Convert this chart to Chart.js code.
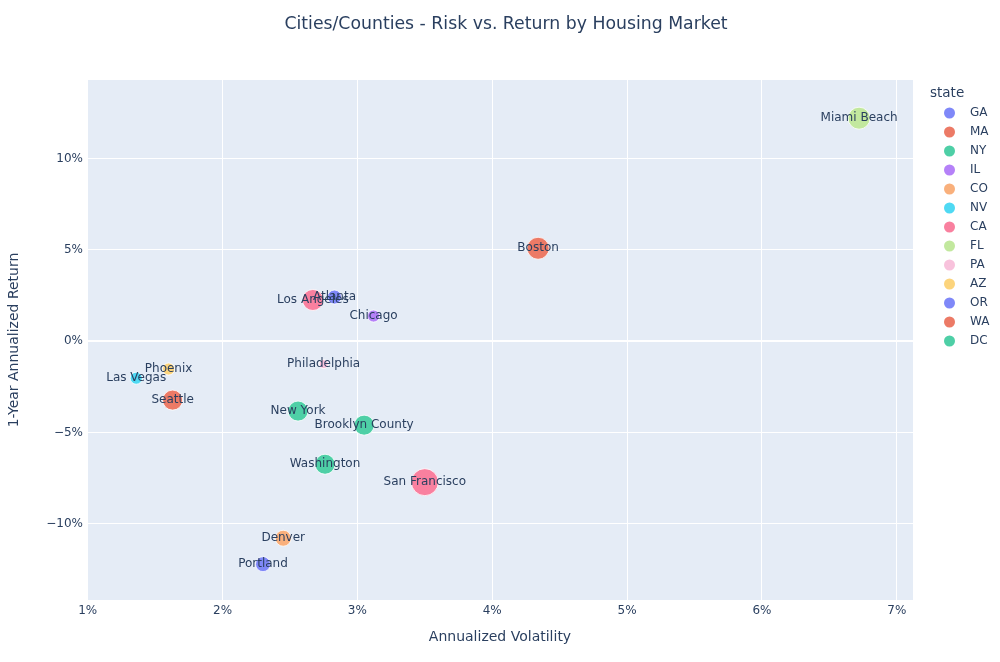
<!DOCTYPE html>
<html>
<head>
<meta charset="utf-8">
<title>Risk vs. Return by Housing Market</title>
<script src="https://cdn.jsdelivr.net/npm/chart.js@4.4.1/dist/chart.umd.min.js"></script>
<style>
  html, body { margin: 0; padding: 0; background: #fff; }
  #wrap { width: 1000px; height: 662px; }
</style>
</head>
<body>
<div id="wrap"><canvas id="chart"></canvas></div>
<script>
// data
const cities = ["Atlanta", "Boston", "New York", "Chicago", "Denver", "Las Vegas", "Los Angeles",
  "Miami Beach", "Philadelphia", "Phoenix", "Portland", "San Francisco", "Seattle",
  "Brooklyn County", "Washington"];
const cityStates = ["GA", "MA", "NY", "IL", "CO", "NV", "CA", "FL", "PA", "AZ", "OR", "CA", "WA", "NY", "DC"];
const volatility = [2.83, 4.34, 2.56, 3.12, 2.45, 1.36, 2.67, 6.72, 2.75, 1.60, 2.30, 3.50, 1.63, 3.05, 2.76];
const annualReturn = [2.41, 5.08, -3.83, 1.37, -10.79, -2.03, 2.25, 12.2, -1.26, -1.53, -12.21, -7.72, -3.23, -4.60, -6.74];
const marketSize = [380, 930, 770, 280, 490, 280, 850, 930, 150, 280, 430, 1400, 770, 770, 770];

const stateOrder = ["GA", "MA", "NY", "IL", "CO", "NV", "CA", "FL", "PA", "AZ", "OR", "WA", "DC"];
const stateColors = ["#7f88f8", "#ec7a66", "#4ecfa6", "#b581f8", "#f9b07c", "#4fd9f3", "#f9809f",
  "#c2e89e", "#f8c2dc", "#fcd47c", "#7f88f8", "#ec7a66", "#4ecfa6"];

const xTicks = [1, 2, 3, 4, 5, 6, 7];
const yTicks = [-10, -5, 0, 5, 10];

const FONT = "'DejaVu Sans', Verdana, sans-serif";
const INK = "#2a3f5f";
const maxSize = Math.max(...marketSize);

const pct = (v) => (v < 0 ? "\u2212" + Math.abs(v) : v) + "%";

const datasets = stateOrder.map((st, i) => {
  const pts = [];
  cities.forEach((c, j) => {
    if (cityStates[j] === st) {
      pts.push({ x: volatility[j], y: annualReturn[j], r: 13.5 * Math.sqrt(marketSize[j] / maxSize), label: c });
    }
  });
  return {
    label: st,
    data: pts,
    backgroundColor: stateColors[i],
    borderColor: "#ffffff",
    borderWidth: 0.8,
    hoverRadius: 0,
  };
});

const frame = {
  id: "frame",
  beforeDraw(chart) {
    const { ctx, chartArea: a } = chart;
    ctx.save();
    ctx.fillStyle = "#e5ecf6";
    ctx.fillRect(a.left, a.top, a.right - a.left, a.bottom - a.top);
    ctx.restore();
  },
  afterDatasetsDraw(chart) {
    const { ctx } = chart;
    ctx.save();
    ctx.font = "12px " + FONT;
    ctx.fillStyle = INK;
    ctx.textAlign = "center";
    ctx.textBaseline = "middle";
    chart.data.datasets.forEach((ds, i) => {
      const meta = chart.getDatasetMeta(i);
      meta.data.forEach((el, k) => {
        ctx.fillText(ds.data[k].label, el.x, el.y);
      });
    });
    ctx.restore();
  },
  afterDraw(chart) {
    const { ctx } = chart;
    ctx.save();
    ctx.fillStyle = INK;
    ctx.textBaseline = "middle";
    ctx.textAlign = "center";
    ctx.font = "17.3px " + FONT;
    ctx.fillText("Cities/Counties - Risk vs. Return by Housing Market", 506, 25);
    // legend
    ctx.textAlign = "left";
    ctx.font = "13.5px " + FONT;
    ctx.fillText("state", 930, 93);
    ctx.font = "12px " + FONT;
    chart.data.datasets.forEach((ds, i) => {
      const y = 113 + i * 19;
      ctx.beginPath();
      ctx.arc(949.5, y, 5.5, 0, Math.PI * 2);
      ctx.fillStyle = ds.backgroundColor;
      ctx.fill();
      ctx.fillStyle = INK;
      ctx.fillText(ds.label, 970, y);
    });
    ctx.restore();
  }
};

const gridCfg = {
  color: "#ffffff",
  lineWidth: (c) => (c.tick && c.tick.value === 0 ? 2 : 1),
  drawTicks: false,
};

new Chart(document.getElementById("chart"), {
  type: "bubble",
  data: { datasets },
  options: {
    responsive: true,
    maintainAspectRatio: false,
    animation: false,
    layout: { padding: { top: 80, right: 87, left: 0, bottom: 0 } },
    plugins: {
      legend: { display: false },
      tooltip: { enabled: false },
      title: { display: false },
    },
    scales: {
      x: {
        type: "linear",
        min: 0.995,
        max: 7.12,
        border: { display: false },
        grid: gridCfg,
        afterBuildTicks: (s) => { s.ticks = xTicks.map((v) => ({ value: v })); },
        afterFit: (s) => { s.height = 62; },
        ticks: {
          padding: 4,
          color: INK,
          font: { family: FONT, size: 12 },
          callback: pct,
        },
        title: {
          display: true,
          text: "Annualized Volatility",
          color: INK,
          font: { family: FONT, size: 14 },
          padding: { top: 0, bottom: 16 },
        },
      },
      y: {
        type: "linear",
        min: -14.17,
        max: 14.29,
        border: { display: false },
        grid: gridCfg,
        afterBuildTicks: (s) => { s.ticks = yTicks.map((v) => ({ value: v })); },
        afterFit: (s) => { s.width = 87; },
        ticks: {
          padding: 4,
          color: INK,
          font: { family: FONT, size: 12 },
          callback: pct,
        },
        title: {
          display: true,
          text: "1-Year Annualized Return",
          color: INK,
          font: { family: FONT, size: 14 },
          padding: { top: 6, bottom: 0 },
        },
      },
    },
  },
  plugins: [frame],
});
</script>
</body>
</html>
